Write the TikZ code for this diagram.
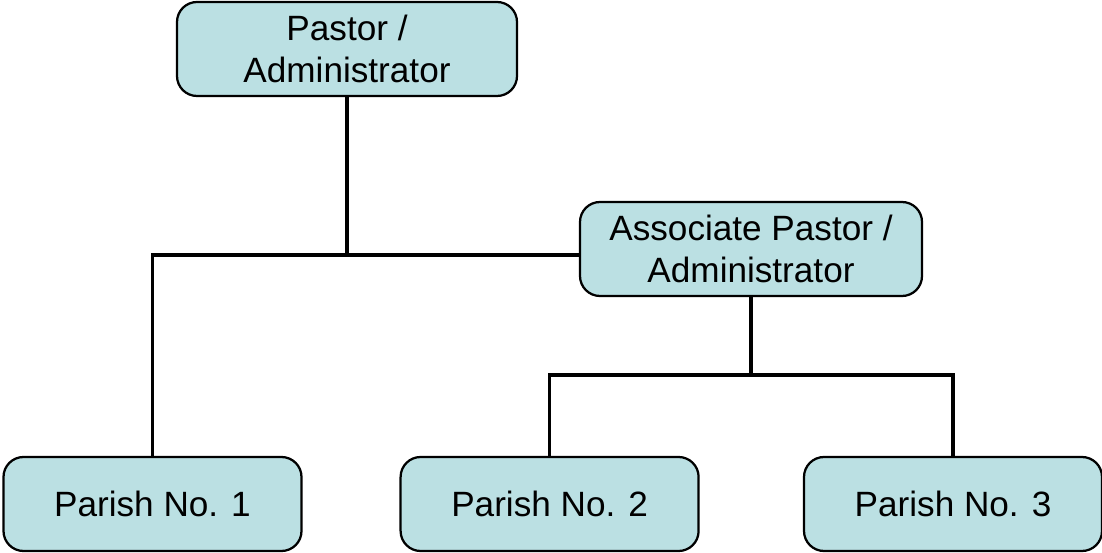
\documentclass[tikz,border=0pt]{standalone}
\usepackage{fontspec}
\setmainfont{Liberation Sans}
\definecolor{boxblue}{RGB}{187,224,227}
\begin{document}
\begin{tikzpicture}[thick,
    unit/.style={draw, line width=1.6pt, fill=boxblue, rounded corners=.5cm,
        minimum width=8.5cm, minimum height=2.35cm, align=center,
        font=\fontsize{25}{30}\selectfont},
    parish/.style={unit, minimum width=7.45cm},
    link/.style={line width=2.4pt}]
    \useasboundingbox (0,0) rectangle (27.55,13.8);

    \node[unit] (pastor) at (8.675,12.575) {Pastor /\\Administrator};
    \node[unit, minimum width=8.55cm] (assoc) at (18.775,7.575) {Associate Pastor /\\Administrator};

    \node[parish] (p1) at (3.8125,1.2) {Parish No. 1};
    \node[parish] (p2) at (13.74,1.2) {Parish No. 2};
    \node[parish] (p3) at (23.825,1.2) {Parish No. 3};

    \coordinate (join) at (8.675,7.425);
    \coordinate (fork) at (18.775,4.425);

    \draw[link] (pastor.south) -- (join);
    \draw[link] (p1.north) |- (join) -- (join -| assoc.west);
    \draw[link] (assoc.south) -- (fork);
    \draw[link] (p2.north) |- (fork) -| (p3.north);

\end{tikzpicture}
\end{document}
